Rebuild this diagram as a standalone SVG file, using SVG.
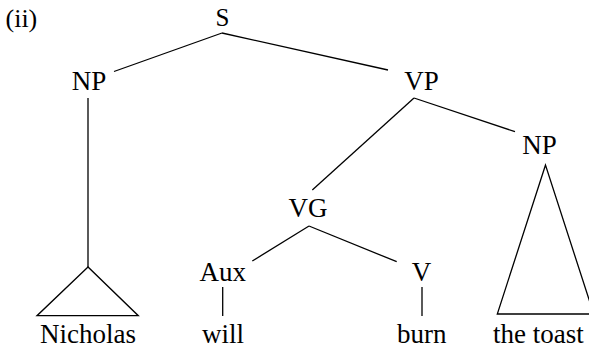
<svg xmlns="http://www.w3.org/2000/svg" width="589" height="349" viewBox="0 0 589 349">
<style>
text{font-family:"Liberation Serif","Times New Roman",serif;font-size:27px;fill:#000;text-anchor:middle}
.e line,.e polyline,.e polygon{stroke:#000;stroke-width:1.3;fill:none}
</style>
<rect width="589" height="349" fill="#fff"/>
<g id="label"><text x="5.5" y="27" style="text-anchor:start;font-size:26px">(ii)</text></g>
<g class="e" id="connectors">
<line x1="222" y1="33" x2="114" y2="71.5"/>
<line x1="222" y1="33" x2="388" y2="70"/>
<line x1="88" y1="98" x2="88" y2="267"/>
<polygon points="88,267 37,315.7 138.3,315.7"/>
<line x1="414" y1="98" x2="312.3" y2="190"/>
<line x1="414" y1="98" x2="515" y2="131.7"/>
<polygon points="545.5,165 497.3,314 593.7,314"/>
<line x1="309" y1="226" x2="252.3" y2="261"/>
<line x1="309" y1="226" x2="396.7" y2="261.7"/>
<line x1="222.7" y1="287" x2="222.7" y2="316"/>
<line x1="422" y1="287" x2="422" y2="316"/>
</g>
<g id="S"><text x="222.5" y="26" style="font-size:25px">S</text></g>
<g id="NP1"><text x="89" y="89.5">NP</text></g>
<g id="VP"><text x="421.5" y="89.5">VP</text></g>
<g id="NP2"><text x="539.5" y="154">NP</text></g>
<g id="VG"><text x="308" y="217">VG</text></g>
<g id="Aux"><text x="222.7" y="281">Aux</text></g>
<g id="V"><text x="421.5" y="280.5">V</text></g>
<g id="Nicholas"><text x="88" y="343">Nicholas</text></g>
<g id="will"><text x="223" y="343">will</text></g>
<g id="burn"><text x="421.7" y="343">burn</text></g>
<g id="thetoast"><text x="538.3" y="343">the toast</text></g>
</svg>
